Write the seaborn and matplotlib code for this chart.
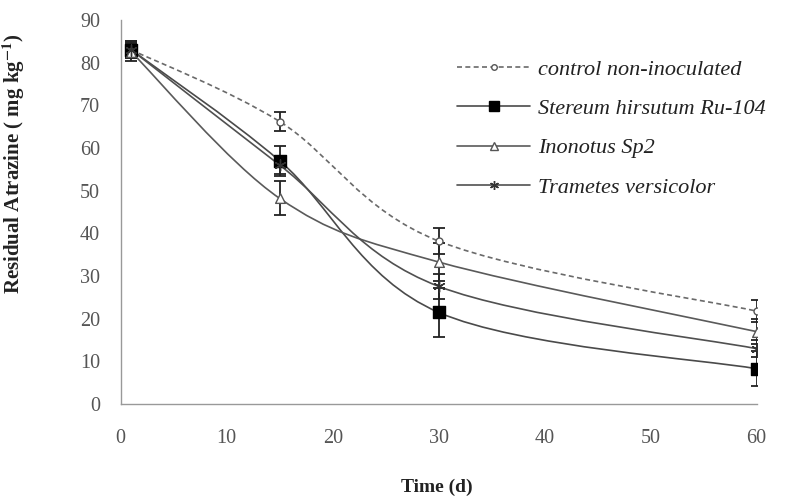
import numpy as np
import pandas as pd
import matplotlib
matplotlib.use("Agg")
import matplotlib.pyplot as plt
from matplotlib.path import Path
from matplotlib.patches import PathPatch
from matplotlib.lines import Line2D
import seaborn as sns

# values
days = [1, 15, 30, 60]
series_names = ["control non-inoculated", "Stereum hirsutum Ru-104",
                "Inonotus Sp2", "Trametes versicolor"]
control_mean = [83.0, 66.2, 38.2, 21.8]
control_err = [2.0, 2.3, 3.0, 2.6]
stereum_mean = [83.0, 57.0, 21.5, 8.3]
stereum_err = [2.0, 3.5, 5.7, 4.1]
inonotus_mean = [82.5, 48.2, 33.3, 17.0]
inonotus_err = [2.0, 4.0, 4.5, 3.0]
trametes_mean = [83.0, 56.0, 27.6, 13.0]
trametes_err = [1.5, 2.0, 3.0, 2.0]
x_ticks = [0, 10, 20, 30, 40, 50, 60]
y_ticks = [0, 10, 20, 30, 40, 50, 60, 70, 80, 90]

means = [control_mean, stereum_mean, inonotus_mean, trametes_mean]
errs = [control_err, stereum_err, inonotus_err, trametes_err]

styles = [
    dict(ls=(0, (3, 2)), lc="#6a6a6a", marker="o", mfc="white", mec="#555555", ms=5),
    dict(ls="-", lc="#4a4a4a", marker="s", mfc="black", mec="black", ms=9),
    dict(ls="-", lc="#5a5a5a", marker="^", mfc="white", mec="#555555", ms=7),
    dict(ls="-", lc="#505050", marker=(6, 2, 0), mfc="#333333", mec="#333333", ms=8),
]


def smooth_path(xs, ys):
    # Excel-like smoothed line: cubic bezier through the points
    pts = np.column_stack([xs, ys]).astype(float)
    n = len(pts)
    verts = [pts[0]]
    codes = [Path.MOVETO]
    for i in range(n - 1):
        p0 = pts[i - 1] if i > 0 else pts[i]
        p1 = pts[i]
        p2 = pts[i + 1]
        p3 = pts[i + 2] if i + 2 < n else pts[i + 1]
        c1 = p1 + (p2 - p0) / 6.0
        c2 = p2 - (p3 - p1) / 6.0
        verts += [c1, c2, p2]
        codes += [Path.CURVE4] * 3
    return Path(verts, codes)


sns.set_theme(style="white")
plt.rcParams["font.family"] = ["Liberation Serif", "DejaVu Serif"]
plt.rcParams["mathtext.fontset"] = "stix"

fig, ax = plt.subplots(figsize=(7.89, 4.99), dpi=100)
fig.subplots_adjust(left=0.153, right=0.959, bottom=0.19, top=0.96)

for name, m, e, st in zip(series_names, means, errs, styles):
    ax.add_patch(PathPatch(smooth_path(days, m), facecolor="none",
                           edgecolor=st["lc"], lw=1.2, ls=st["ls"], zorder=2))
    ax.errorbar(days, m, yerr=e, fmt="none", ecolor="#222222",
                elinewidth=1.3, capsize=4, capthick=1.3, zorder=3)
    df = pd.DataFrame({"day": days, "val": m})
    sns.scatterplot(data=df, x="day", y="val", ax=ax, marker=st["marker"],
                    s=st["ms"] ** 2, color=st["mfc"], edgecolor=st["mec"],
                    linewidth=1.0, zorder=4, legend=False)

ax.set_xlim(0, 60)
ax.set_ylim(0, 90)
ax.set_xticks(x_ticks)
ax.set_yticks(y_ticks)
ax.tick_params(axis="both", which="major", direction="out", length=3,
               width=0.8, color="#999999", labelsize=14.5, labelcolor="#555555")
ax.tick_params(axis="x", pad=15)
ax.tick_params(axis="y", pad=12)
for side in ["top", "right"]:
    ax.spines[side].set_visible(False)
for side in ["left", "bottom"]:
    ax.spines[side].set_color("#999999")
    ax.spines[side].set_linewidth(1.0)

ax.set_xlabel("Time (d)", fontsize=14, fontweight="bold", color="#222222")
ax.set_ylabel(r"Residual Atrazine ( mg kg$^{\mathbf{-1}}$)", fontsize=15,
              fontweight="bold", color="#222222")
ax.xaxis.set_label_coords(0.497, -0.195)
ax.yaxis.set_label_coords(-0.148, 0.625)

handles = []
for st in styles:
    handles.append(Line2D([0], [0], color=st["lc"], ls=st["ls"], lw=1.2,
                          marker=st["marker"], markersize=st["ms"] * 0.8,
                          markerfacecolor=st["mfc"], markeredgecolor=st["mec"]))
leg = fig.legend(handles, series_names, loc="upper left",
                 bbox_to_anchor=(437 / 789, 1 - 39 / 499), frameon=False,
                 handlelength=3.3, handletextpad=0.35, labelspacing=0.85,
                 prop={"family": "Liberation Serif", "style": "italic", "size": 16})
for t in leg.get_texts():
    t.set_color("#222222")

fig.savefig("out.png", dpi=100)
